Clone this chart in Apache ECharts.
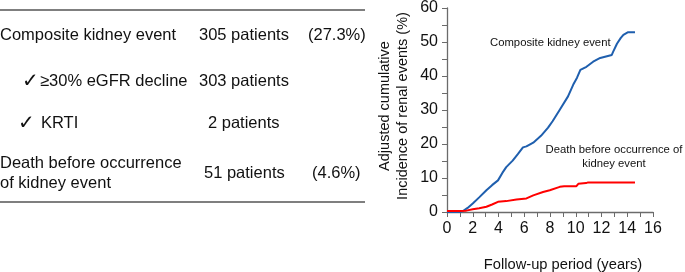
<!DOCTYPE html>
<html>
<head>
<meta charset="utf-8">
<script src="https://cdn.jsdelivr.net/npm/echarts@6/dist/echarts.min.js"></script>
<style>
  html, body { margin: 0; padding: 0; background: #fff; }
  #chart { width: 685px; height: 272px; }
</style>
</head>
<body>
<div id="chart"></div>
<script>
  // composite kidney event curve (years, %)
  const compositeYears = [0, 1.0, 1.24, 1.6, 2.0, 2.5, 3.06, 3.5, 3.96, 4.3, 4.6, 5.1, 5.5, 5.9, 6.17, 6.7, 7.3, 7.85, 8.2, 8.76, 9.4, 9.8, 10.1, 10.36, 10.83, 11.35, 11.9, 12.5, 12.8, 12.9, 13.2, 13.5, 13.7, 14.07, 14.6]
  const compositePct = [0, 0, 0.3, 1.2, 2.5, 4.3, 6.4, 7.9, 9.3, 11.5, 13.2, 15.1, 17.0, 19.0, 19.3, 20.4, 22.4, 24.8, 26.7, 30.1, 34.0, 37.4, 39.5, 41.8, 42.7, 44.2, 45.3, 45.9, 46.2, 47.1, 49.5, 51.2, 52.1, 52.9, 52.9]

  // death before kidney event curve (years, %)
  const deathYears = [0, 1.0, 1.5, 2.0, 2.5, 3.06, 3.5, 3.96, 4.6, 5.4, 6.17, 6.7, 7.46, 7.98, 8.76, 9.1, 10.05, 10.2, 10.8, 10.96, 14.6]
  const deathPct = [0.3, 0.3, 0.4, 0.8, 1.1, 1.55, 2.2, 3.0, 3.2, 3.7, 4.0, 4.9, 5.9, 6.4, 7.4, 7.6, 7.6, 8.3, 8.5, 8.7, 8.7]

  const seriesNames = ['Composite kidney event', 'Death before occurrence of kidney event']

  // table on the left
  const tableRows = [
    { label: 'Composite kidney event', count: '305 patients', pct: '(27.3%)' },
    { label: '\u226530% eGFR decline', count: '303 patients', pct: '' },
    { label: 'KRTI', count: '2 patients', pct: '' },
    { label: 'Death before occurrence\nof kidney event', count: '51 patients', pct: '(4.6%)' }
  ]

  const xTicks = { min: 0, max: 16, interval: 2 }
  const yTicks = { min: 0, max: 60, interval: 10 }

  const zip = (xs, ys) => xs.map((x, i) => [x, ys[i]])

  const FONT = 'Liberation Sans'
  const axisColor = '#6b6b6b'

  const txt = (x, y, text, extra) => ({
    type: 'text', x: x, y: y,
    style: Object.assign({ text: text, fill: '#111', font: '16.5px "' + FONT + '"', verticalAlign: 'middle', align: 'left' }, extra || {})
  })

  const check = (x, y) => txt(x, y, '\u2713', { font: '20px "DejaVu Sans"' })

  const graphics = [
    { type: 'line', shape: { x1: 0, y1: 10, x2: 365, y2: 10 }, style: { stroke: '#555', lineWidth: 1.5 } },
    { type: 'line', shape: { x1: 0, y1: 202, x2: 365, y2: 202 }, style: { stroke: '#555', lineWidth: 1.5 } },

    txt(0, 35, tableRows[0].label),
    txt(199, 35, tableRows[0].count),
    txt(308, 35, tableRows[0].pct),

    check(22, 82),
    txt(40, 81, tableRows[1].label),
    txt(199, 81, tableRows[1].count),

    check(18, 124),
    txt(41, 123, tableRows[2].label),
    txt(208, 123, tableRows[2].count),

    txt(0, 163, 'Death before occurrence'),
    txt(0, 183, 'of kidney event'),
    txt(204, 173, tableRows[3].count),
    txt(312, 173, tableRows[3].pct),

    // curve annotations
    txt(490, 43, 'Composite kidney event', { font: '11.3px "' + FONT + '"' }),
    txt(614, 150, 'Death before occurrence of', { font: '11.3px "' + FONT + '"', align: 'center' }),
    txt(614, 164, 'kidney event', { font: '11.3px "' + FONT + '"', align: 'center' }),

    // y axis title (two lines)
    txt(385, 106, 'Adjusted cumulative', { font: '14.5px "' + FONT + '"', align: 'center' }),
    txt(403, 106, 'Incidence of renal events (%)', { font: '14.5px "' + FONT + '"', align: 'center' }),

    txt(563, 265, 'Follow-up period (years)', { font: '14.7px "' + FONT + '"', align: 'center' })
  ]
  // rotate y title lines
  graphics[graphics.length - 3].rotation = Math.PI / 2
  graphics[graphics.length - 2].rotation = Math.PI / 2

  const chart = echarts.init(document.getElementById('chart'), null, { renderer: 'canvas' })

  const option = {
    animation: false,
    backgroundColor: '#fff',
    grid: { left: 447, right: 32, top: 6, bottom: 60, containLabel: false },
    xAxis: {
      type: 'value',
      min: xTicks.min, max: xTicks.max, interval: xTicks.interval,
      axisLine: { show: true, lineStyle: { color: axisColor, width: 1.3 } },
      axisTick: { show: true, length: 5, lineStyle: { color: axisColor } },
      minorTick: { show: true, splitNumber: 2, length: 5, lineStyle: { color: axisColor } },
      splitLine: { show: false },
      axisLabel: { color: '#111', fontFamily: FONT, fontSize: 16, margin: 9 }
    },
    yAxis: {
      type: 'value',
      min: yTicks.min, max: yTicks.max, interval: yTicks.interval,
      axisLine: { show: true, lineStyle: { color: axisColor, width: 1.3 } },
      axisTick: { show: true, length: 5, lineStyle: { color: axisColor } },
      minorTick: { show: true, splitNumber: 2, length: 5, lineStyle: { color: axisColor } },
      splitLine: { show: false },
      axisLabel: { color: '#111', fontFamily: FONT, fontSize: 16, margin: 9 }
    },
    series: [
      {
        name: seriesNames[0],
        type: 'line',
        data: zip(compositeYears, compositePct),
        showSymbol: false,
        lineStyle: { color: '#1f5fae', width: 2 },
        z: 2
      },
      {
        name: seriesNames[1],
        type: 'line',
        data: zip(deathYears, deathPct),
        showSymbol: false,
        lineStyle: { color: '#ff0000', width: 2 },
        z: 3
      }
    ],
    graphic: graphics
  }

  chart.setOption(option)
</script>
</body>
</html>
